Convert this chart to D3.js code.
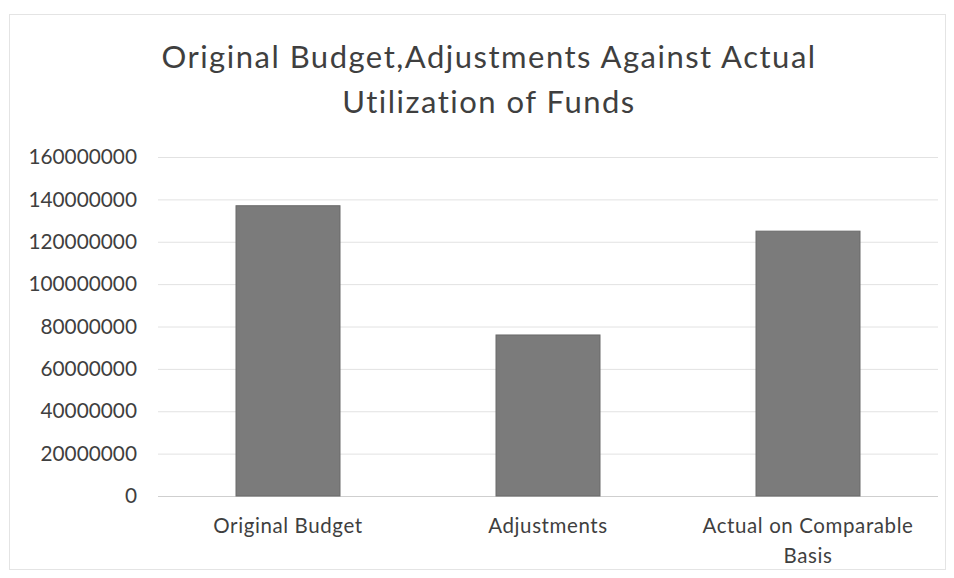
<!DOCTYPE html>
<html><head><meta charset="utf-8">
<script src="https://cdn.jsdelivr.net/npm/d3@7"></script>
<style>body{margin:0;background:#fff}</style>
</head><body>
<svg id="c" width="954" height="578"></svg>
<script>
const categories = ["Original Budget", "Adjustments", "Actual on Comparable Basis"];
const values = [137000000, 76000000, 125000000];
const yTicks = [0, 20000000, 40000000, 60000000, 80000000, 100000000, 120000000, 140000000, 160000000];
const titleLines = ["Original Budget,Adjustments Against Actual", "Utilization of Funds"];

const svg = d3.select("#c");
const font = "Lato, 'Open Sans', sans-serif";
const textColor = "#3f3f3f";

svg.append("rect").attr("x", 9.5).attr("y", 14.5).attr("width", 936).attr("height", 555)
  .attr("fill", "#fff").attr("stroke", "#e4e4e4");

const x = d3.scaleBand().domain(categories).range([158, 938]).paddingInner(0.6).paddingOuter(0.3);
const y = d3.scaleLinear().domain([0, 160000000]).range([496, 157]);

// gridlines
svg.append("g").selectAll("line").data(yTicks).join("line")
  .attr("x1", 158).attr("x2", 938)
  .attr("y1", d => y(d) + 0.5).attr("y2", d => y(d) + 0.5)
  .attr("stroke", d => d === 0 ? "#cfcfcf" : "#e2e2e2").attr("stroke-width", 1);

// y axis labels
const yAxis = d3.axisLeft(y).tickValues(yTicks).tickFormat(d => String(d)).tickSize(0).tickPadding(0);
const ya = svg.append("g").attr("transform", "translate(137,0)").call(yAxis);
ya.select(".domain").remove();
ya.selectAll("text").attr("font-family", font).attr("font-size", 20.8).attr("fill", textColor);

// bars
svg.append("g").selectAll("rect").data(values).join("rect")
  .attr("x", (d, i) => x(categories[i]))
  .attr("width", x.bandwidth())
  .attr("y", d => y(d))
  .attr("height", d => y(0) - y(d))
  .attr("fill", "#7b7b7b").attr("stroke", "#6a6a6a").attr("stroke-width", 1);

// x axis labels (wrapped)
const xAxis = d3.axisBottom(x).tickSize(0).tickPadding(0);
const xa = svg.append("g").attr("transform", "translate(0,496)").call(xAxis);
xa.select(".domain").remove();
xa.selectAll("text").each(function(d) {
  const t = d3.select(this);
  t.text(null).attr("font-family", font).attr("font-size", 20.5).attr("letter-spacing", 0.6)
   .attr("fill", textColor).attr("y", 0).attr("dy", null);
  const lines = d === "Actual on Comparable Basis" ? ["Actual on Comparable", "Basis"] : [d];
  lines.forEach((ln, k) => t.append("tspan").attr("x", 0).attr("y", 37 + k * 29.5).text(ln));
});

// title
svg.append("g").selectAll("text").data(titleLines).join("text")
  .attr("x", 489).attr("y", (d, i) => 68 + i * 45)
  .attr("text-anchor", "middle")
  .attr("font-family", font).attr("font-size", 31).attr("letter-spacing", 1.5).attr("fill", textColor)
  .text(d => d);
</script>
</body></html>
